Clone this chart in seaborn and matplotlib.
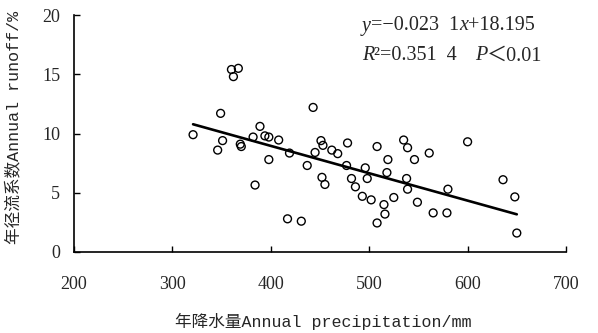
import matplotlib
matplotlib.use('Agg')
import matplotlib.pyplot as plt
import seaborn as sns
import numpy as np
import pandas as pd

# Annual precipitation (mm) and annual runoff coefficient (%)
precip = [321, 346, 349, 351, 360, 367, 362, 369, 370, 382, 389, 394, 398, 408,
          398, 384, 419, 417, 431, 437, 443, 445, 451, 453, 462, 468, 478, 477,
          452, 455, 508, 496, 498, 482, 486, 493, 502, 519, 518, 535, 539, 546,
          561, 538, 539, 525, 515, 516, 508, 549, 565, 579, 580, 600, 636, 648, 650]
runoff = [9.9, 8.6, 11.7, 9.4, 15.4, 15.5, 14.8, 9.1, 8.9, 9.7, 10.6, 9.8, 9.7, 9.45,
          7.8, 5.65, 8.35, 2.8, 2.6, 7.3, 12.2, 8.4, 9.4, 9.0, 8.6, 8.3, 9.2, 7.3,
          6.3, 5.7, 8.9, 7.1, 6.2, 6.2, 5.5, 4.7, 4.4, 7.8, 6.7, 9.45, 8.8, 7.8,
          8.35, 6.2, 5.3, 4.6, 4.0, 3.2, 2.45, 4.2, 3.3, 3.3, 5.3, 9.3, 6.1, 4.65, 1.6]

slope = -0.0231
intercept = 18.195
x_ticks = [200, 300, 400, 500, 600, 700]
y_ticks = [0, 5, 10, 15, 20]
x_label = '年降水量Annual precipitation/mm'
y_label = '年径流系数Annual runoff/%'

sns.set_theme(style='white')
plt.rcParams['font.family'] = ['Liberation Serif', 'Noto Sans CJK SC']

W, H = 598, 333
fig = plt.figure(figsize=(W / 100, H / 100), dpi=100)
ax = fig.add_axes([74 / W, 1 - 252 / H, (566 - 74) / W, (252 - 15) / H])

df = pd.DataFrame({'precip': precip, 'runoff': runoff})
line_x = np.array([min(precip), max(precip)], dtype=float)
line_df = pd.DataFrame({'x': line_x, 'y': slope * line_x + intercept})
sns.lineplot(data=line_df, x='x', y='y', ax=ax, color='black', linewidth=1.9, zorder=2)
sns.scatterplot(data=df, x='precip', y='runoff', ax=ax, marker='o', s=32,
                facecolor='none', edgecolor='black', linewidth=1.0, zorder=3)

ax.set_xlim(200, 700)
ax.set_ylim(0, 20)
ax.set_xticks(x_ticks)
ax.set_yticks(y_ticks)
ax.set_xticklabels([str(t) for t in x_ticks], fontsize=13)
ax.set_yticklabels([str(t) for t in y_ticks], fontsize=13)
ax.tick_params(axis='x', direction='in', length=4, width=1, color='black', pad=17, bottom=True)
ax.tick_params(axis='y', direction='in', length=4, width=1, color='black', pad=10, left=True)
for s in ['top', 'right']:
    ax.spines[s].set_visible(False)
for s in ['left', 'bottom']:
    ax.spines[s].set_color('black')
    ax.spines[s].set_linewidth(1.2)
ax.set_xlabel('')
ax.set_ylabel('')
ax.grid(False)

lab_fam = ['Liberation Mono', 'Noto Sans CJK SC']
fig.text(323 / W, 1 - 321 / H, x_label, ha='center', va='center', fontsize=12, family=lab_fam)
fig.text(13 / W, 1 - 127 / H, y_label, ha='center', va='center', rotation=90, fontsize=12, family=lab_fam)

# Regression annotation, built from runs of text
def place_run(x_px, y_px, pieces, size=14.5):
    fig.canvas.draw()
    r = fig.canvas.get_renderer()
    x = x_px
    for txt, style, x_fix in pieces:
        if x_fix is not None:
            x = x_fix
        t = fig.text(x / W, y_px / H, txt, fontsize=size, style=style, va='center', ha='left',
                     family=['Liberation Serif', 'Noto Sans CJK SC'])
        bb = t.get_window_extent(renderer=r)
        x = bb.x1

place_run(362, H - 26, [('y', 'italic', None), ('=−0.023  1', 'normal', None),
                        ('x', 'italic', None), ('+18.195', 'normal', None)])
place_run(362, H - 56, [('R', 'italic', None), ('²=0.351  4', 'normal', None),
                        ('P', 'italic', 475), ('＜0.01', 'normal', None)])

fig.savefig('out.png', dpi=100)
